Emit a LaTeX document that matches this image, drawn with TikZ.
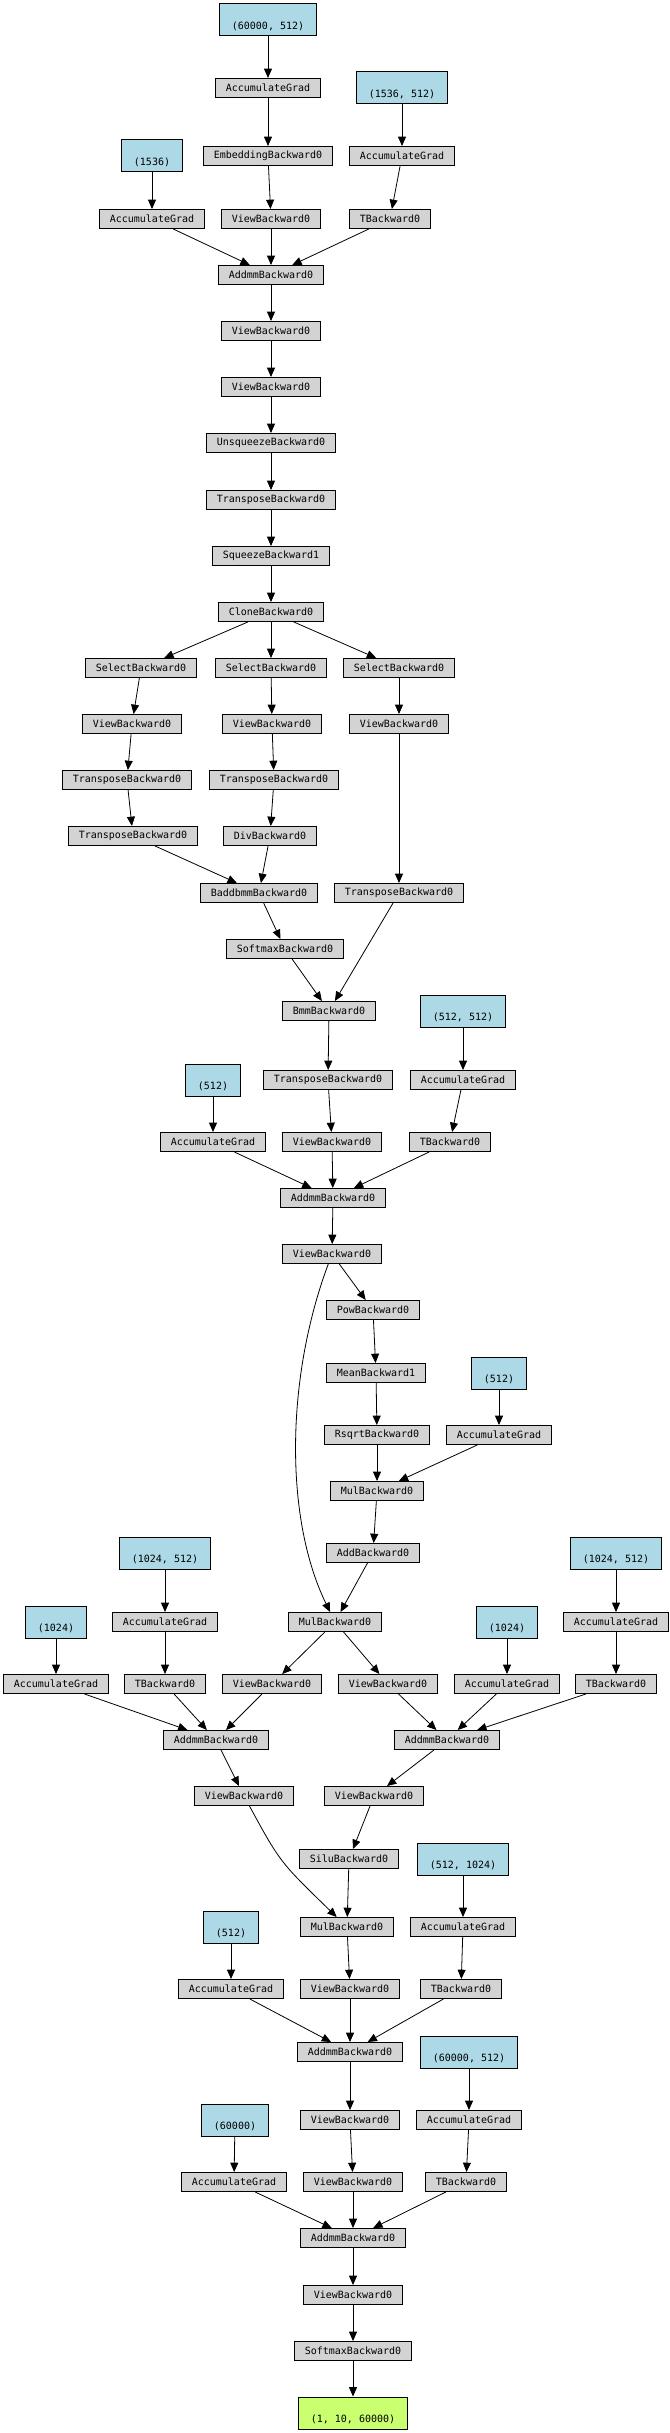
\documentclass[tikz,border=0pt]{standalone}
\usepackage{fontspec}
\setmonofont{DejaVu Sans Mono}
\usepackage{tikz}
\usetikzlibrary{arrows.meta}
\usepackage{color}
\definecolor{gradgray}{HTML}{D3D3D3}
\definecolor{paramblue}{HTML}{ADD8E6}
\definecolor{outgreen}{HTML}{CAFF70}

\begin{document}
\begin{tikzpicture}[
x=0.75pt, y=-0.75pt,
>={Triangle[length=7pt, width=6pt]},
every path/.style={line width=0.6pt},
greynode/.style={rectangle, draw=black, fill=gradgray, line width=0.75pt, font=\ttfamily\fontsize{7.5}{9}\selectfont, inner xsep=7.5pt, inner ysep=0pt, minimum height=14.25pt},
bluenode/.style={rectangle, draw=black, fill=paramblue, line width=0.75pt, font=\ttfamily\fontsize{7.5}{9}\selectfont, inner xsep=9.4pt, inner ysep=3pt, text height=16pt, text depth=2pt},
greennode/.style={bluenode, fill=outgreen},
]
\useasboundingbox (0,0) rectangle (670,2433);

%Nodes
\node[bluenode]   at (268,20)     (p_tok)          [] {(60000, 512)};
\node[greynode]   at (268,88)     (acc_tok)        [] {AccumulateGrad};
\node[bluenode]   at (402,88)     (p_qkvw)         [] {(1536, 512)};
\node[bluenode]   at (152,156)    (p_qkvb)         [] {(1536)};
\node[greynode]   at (268,156)    (emb)            [] {EmbeddingBackward0};
\node[greynode]   at (402,156)    (acc_qkvw)       [] {AccumulateGrad};
\node[greynode]   at (152,219)    (acc_qkvb)       [] {AccumulateGrad};
\node[greynode]   at (271,219)    (view_emb)       [] {ViewBackward0};
\node[greynode]   at (390,219)    (t_qkv)          [] {TBackward0};
\node[greynode]   at (271,275)    (addmm_qkv)      [] {AddmmBackward0};
\node[greynode]   at (271,331)    (view_qkv1)      [] {ViewBackward0};
\node[greynode]   at (271,387)    (view_qkv2)      [] {ViewBackward0};
\node[greynode]   at (271,443)    (unsq)           [] {UnsqueezeBackward0};
\node[greynode]   at (271,500)    (trans_qkv)      [] {TransposeBackward0};
\node[greynode]   at (271,556)    (squeeze)        [] {SqueezeBackward1};
\node[greynode]   at (271,612)    (clone)          [] {CloneBackward0};

\node[greynode]   at (141,668)    (sel_q)          [] {SelectBackward0};
\node[greynode]   at (271,668)    (sel_k)          [] {SelectBackward0};
\node[greynode]   at (399,668)    (sel_v)          [] {SelectBackward0};
\node[greynode]   at (132,724)    (view_q)         [] {ViewBackward0};
\node[greynode]   at (272,724)    (view_k)         [] {ViewBackward0};
\node[greynode]   at (399,724)    (view_v)         [] {ViewBackward0};
\node[greynode]   at (127,780)    (trans_q1)       [] {TransposeBackward0};
\node[greynode]   at (274,780)    (trans_k)        [] {TransposeBackward0};
\node[greynode]   at (133,836)    (trans_q2)       [] {TransposeBackward0};
\node[greynode]   at (270,836)    (div_k)          [] {DivBackward0};
\node[greynode]   at (259,893)    (baddbmm)        [] {BaddbmmBackward0};
\node[greynode]   at (399,893)    (trans_v)        [] {TransposeBackward0};
\node[greynode]   at (285,949)    (softmax_att)    [] {SoftmaxBackward0};
\node[greynode]   at (329,1011)   (bmm)            [] {BmmBackward0};

\node[bluenode]   at (463,1011)   (p_ow)           [] {(512, 512)};
\node[bluenode]   at (213,1080)   (p_ob)           [] {(512)};
\node[greynode]   at (328,1080)   (trans_att)      [] {TransposeBackward0};
\node[greynode]   at (463,1080)   (acc_ow)         [] {AccumulateGrad};
\node[greynode]   at (213,1142)   (acc_ob)         [] {AccumulateGrad};
\node[greynode]   at (332,1142)   (view_att)       [] {ViewBackward0};
\node[greynode]   at (450,1142)   (t_o)            [] {TBackward0};
\node[greynode]   at (333,1198)   (addmm_o)        [] {AddmmBackward0};
\node[greynode]   at (332,1254)   (view_o)         [] {ViewBackward0};

\node[greynode]   at (373,1310)   (pow_sq)         [] {PowBackward0};
\node[greynode]   at (376,1373)   (mean_sq)        [] {MeanBackward1};
\node[bluenode]   at (499,1373)   (p_norm)         [] {(512)};
\node[greynode]   at (377,1435)   (rsqrt)          [] {RsqrtBackward0};
\node[greynode]   at (499,1435)   (acc_norm)       [] {AccumulateGrad};
\node[greynode]   at (377,1491)   (mul_norm)       [] {MulBackward0};
\node[greynode]   at (373,1553)   (add_eps)        [] {AddBackward0};
\node[greynode]   at (335,1622)   (mul_res)        [] {MulBackward0};

\node[bluenode]   at (165,1553)   (p_w1)           [] {(1024, 512)};
\node[bluenode]   at (616,1553)   (p_w3)           [] {(1024, 512)};
\node[bluenode]   at (56,1622)    (p_b1)           [] {(1024)};
\node[greynode]   at (165,1622)   (acc_w1)         [] {AccumulateGrad};
\node[bluenode]   at (507,1622)   (p_b3)           [] {(1024)};
\node[greynode]   at (616,1622)   (acc_w3)         [] {AccumulateGrad};
\node[greynode]   at (56,1684)    (acc_b1)         [] {AccumulateGrad};
\node[greynode]   at (165,1684)   (t_w1)           [] {TBackward0};
\node[greynode]   at (272,1684)   (view_h1)        [] {ViewBackward0};
\node[greynode]   at (388,1684)   (view_h3)        [] {ViewBackward0};
\node[greynode]   at (507,1684)   (acc_b3)         [] {AccumulateGrad};
\node[greynode]   at (616,1684)   (t_w3)           [] {TBackward0};
\node[greynode]   at (216,1740)   (addmm_w1)       [] {AddmmBackward0};
\node[greynode]   at (447,1740)   (addmm_w3)       [] {AddmmBackward0};
\node[greynode]   at (244,1796)   (view_a1)        [] {ViewBackward0};
\node[greynode]   at (374,1796)   (view_a3)        [] {ViewBackward0};
\node[greynode]   at (349,1859)   (silu)           [] {SiluBackward0};
\node[bluenode]   at (463,1859)   (p_w2)           [] {(512, 1024)};
\node[bluenode]   at (231,1927)   (p_b2)           [] {(512)};
\node[greynode]   at (347,1927)   (mul_ff)         [] {MulBackward0};
\node[greynode]   at (463,1927)   (acc_w2)         [] {AccumulateGrad};
\node[greynode]   at (231,1989)   (acc_b2)         [] {AccumulateGrad};
\node[greynode]   at (350,1989)   (view_ff)        [] {ViewBackward0};
\node[greynode]   at (461,1989)   (t_w2)           [] {TBackward0};
\node[greynode]   at (350,2052)   (addmm_w2)       [] {AddmmBackward0};

\node[bluenode]   at (469,2052)   (p_lmw)          [] {(60000, 512)};
\node[bluenode]   at (235,2120)   (p_lmb)          [] {(60000)};
\node[greynode]   at (350,2120)   (view_ff2)       [] {ViewBackward0};
\node[greynode]   at (469,2120)   (acc_lmw)        [] {AccumulateGrad};
\node[greynode]   at (234,2182)   (acc_lmb)        [] {AccumulateGrad};
\node[greynode]   at (353,2182)   (view_ff3)       [] {ViewBackward0};
\node[greynode]   at (466,2182)   (t_lm)           [] {TBackward0};
\node[greynode]   at (353,2238)   (addmm_lm)       [] {AddmmBackward0};
\node[greynode]   at (353,2295)   (view_lm)        [] {ViewBackward0};
\node[greynode]   at (353,2351)   (softmax_out)    [] {SoftmaxBackward0};
\node[greennode]  at (353,2413)   (out)            [] {(1, 10, 60000)};

% %Lines
\draw[->] (p_tok) -- (acc_tok);
\draw[->] (acc_tok) -- (emb);
\draw[->] (p_qkvw) -- (acc_qkvw);
\draw[->] (p_qkvb) -- (acc_qkvb);
\draw[->] (emb) -- (view_emb);
\draw[->] (acc_qkvw) -- (t_qkv);
\draw[->] (acc_qkvb) -- (addmm_qkv);
\draw[->] (view_emb) -- (addmm_qkv);
\draw[->] (t_qkv) -- (addmm_qkv);
\draw[->] (addmm_qkv) -- (view_qkv1);
\draw[->] (view_qkv1) -- (view_qkv2);
\draw[->] (view_qkv2) -- (unsq);
\draw[->] (unsq) -- (trans_qkv);
\draw[->] (trans_qkv) -- (squeeze);
\draw[->] (squeeze) -- (clone);

\draw[->] (clone) -- (sel_q);
\draw[->] (clone) -- (sel_k);
\draw[->] (clone) -- (sel_v);
\draw[->] (sel_q) -- (view_q);
\draw[->] (sel_k) -- (view_k);
\draw[->] (sel_v) -- (view_v);
\draw[->] (view_q) -- (trans_q1);
\draw[->] (view_k) -- (trans_k);
\draw[->] (view_v) -- (trans_v);
\draw[->] (trans_q1) -- (trans_q2);
\draw[->] (trans_k) -- (div_k);
\draw[->] (trans_q2) -- (baddbmm);
\draw[->] (div_k) -- (baddbmm);
\draw[->] (baddbmm) -- (softmax_att);
\draw[->] (softmax_att) -- (bmm);
\draw[->] (trans_v) -- (bmm);

\draw[->] (bmm) -- (trans_att);
\draw[->] (trans_att) -- (view_att);
\draw[->] (p_ow) -- (acc_ow);
\draw[->] (acc_ow) -- (t_o);
\draw[->] (p_ob) -- (acc_ob);
\draw[->] (acc_ob) -- (addmm_o);
\draw[->] (view_att) -- (addmm_o);
\draw[->] (t_o) -- (addmm_o);
\draw[->] (addmm_o) -- (view_o);

\draw[->] (view_o) -- (pow_sq);
\draw[->] (pow_sq) -- (mean_sq);
\draw[->] (mean_sq) -- (rsqrt);
\draw[->] (p_norm) -- (acc_norm);
\draw[->] (rsqrt) -- (mul_norm);
\draw[->] (acc_norm) -- (mul_norm);
\draw[->] (mul_norm) -- (add_eps);
\draw[->] (add_eps) -- (mul_res);
\draw[->] (view_o) .. controls (285,1380) and (285,1520) .. (mul_res);

\draw[->] (mul_res) -- (view_h1);
\draw[->] (mul_res) -- (view_h3);
\draw[->] (p_w1) -- (acc_w1);
\draw[->] (acc_w1) -- (t_w1);
\draw[->] (p_b1) -- (acc_b1);
\draw[->] (p_w3) -- (acc_w3);
\draw[->] (acc_w3) -- (t_w3);
\draw[->] (p_b3) -- (acc_b3);
\draw[->] (acc_b1) -- (addmm_w1);
\draw[->] (t_w1) -- (addmm_w1);
\draw[->] (view_h1) -- (addmm_w1);
\draw[->] (view_h3) -- (addmm_w3);
\draw[->] (acc_b3) -- (addmm_w3);
\draw[->] (t_w3) -- (addmm_w3);
\draw[->] (addmm_w1) -- (view_a1);
\draw[->] (addmm_w3) -- (view_a3);
\draw[->] (view_a3) -- (silu);
\draw[->] (view_a1) .. controls (280,1862) .. (mul_ff);
\draw[->] (silu) -- (mul_ff);
\draw[->] (p_w2) -- (acc_w2);
\draw[->] (acc_w2) -- (t_w2);
\draw[->] (p_b2) -- (acc_b2);
\draw[->] (mul_ff) -- (view_ff);
\draw[->] (acc_b2) -- (addmm_w2);
\draw[->] (view_ff) -- (addmm_w2);
\draw[->] (t_w2) -- (addmm_w2);

\draw[->] (addmm_w2) -- (view_ff2);
\draw[->] (view_ff2) -- (view_ff3);
\draw[->] (p_lmw) -- (acc_lmw);
\draw[->] (acc_lmw) -- (t_lm);
\draw[->] (p_lmb) -- (acc_lmb);
\draw[->] (acc_lmb) -- (addmm_lm);
\draw[->] (view_ff3) -- (addmm_lm);
\draw[->] (t_lm) -- (addmm_lm);
\draw[->] (addmm_lm) -- (view_lm);
\draw[->] (view_lm) -- (softmax_out);
\draw[->] (softmax_out) -- (out);

\end{tikzpicture}
\end{document}
